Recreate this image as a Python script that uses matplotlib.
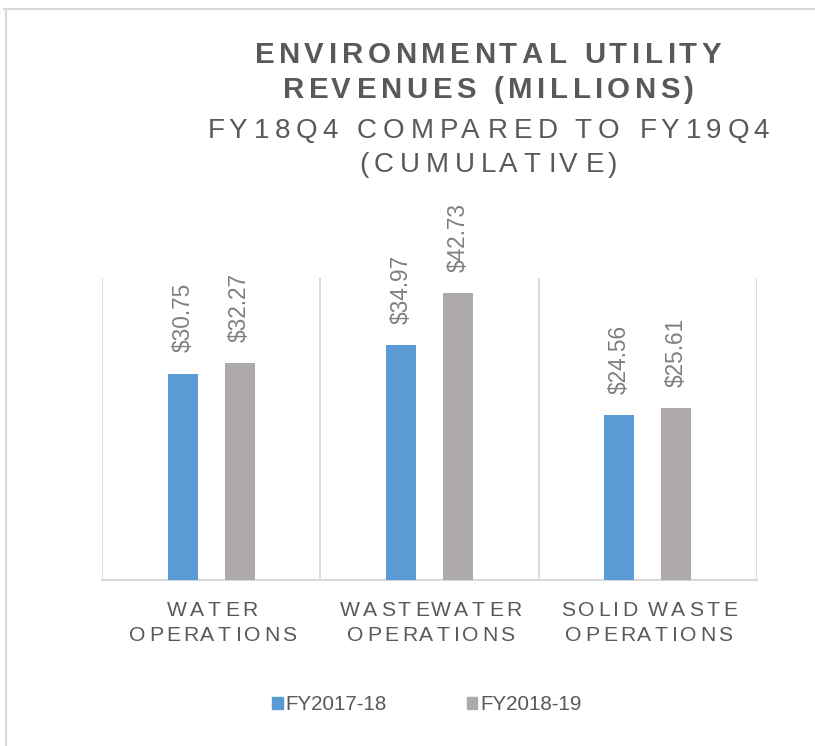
import matplotlib
matplotlib.use('Agg')
import matplotlib.pyplot as plt
from matplotlib import font_manager
from matplotlib.ft2font import FT2Font, LoadFlags
from matplotlib.transforms import IdentityTransform
from matplotlib.patches import Patch
from matplotlib.lines import Line2D

# data
categories = ['WATER\nOPERATIONS', 'WASTEWATER\nOPERATIONS', 'SOLID WASTE\nOPERATIONS']
fy2017_18 = [30.75, 34.97, 24.56]
fy2018_19 = [32.27, 42.73, 25.61]
series_names = ['FY2017-18', 'FY2018-19']

BLUE = '#5B9BD5'
GRAY = '#AEAAAA'
TEXT = '#595959'
LABEL = '#7F7F7F'
GRID = '#D9D9D9'

W, H = 815, 746
fig = plt.figure(figsize=(W / 100, H / 100), dpi=100)
ax = fig.add_axes([102 / W, 1 - 580 / H, 655 / W, 302 / H])


def tracked_text(x, y_top, s, size, track, weight='normal', color=TEXT):
    # draw text centred on x (pixels) with baseline at y_top (pixels from top), extra letter spacing
    prop = font_manager.FontProperties(family='Liberation Sans', weight=weight)
    font = FT2Font(font_manager.findfont(prop))
    font.set_size(size, fig.dpi)
    advs, bears = [], []
    for ch in s:
        g = font.load_char(ord(ch), flags=LoadFlags.NO_HINTING)
        advs.append(g.linearHoriAdvance / 65536)
        bears.append(g.horiBearingX / 64)
    total = sum(advs) + track * (len(s) - 1)
    pen = x - total / 2
    for ch, a, b in zip(s, advs, bears):
        if ch != ' ':
            fig.text(pen + b, H - y_top, ch, transform=IdentityTransform(),
                     fontsize=size, fontweight=weight, family='Liberation Sans',
                     color=color, ha='left', va='baseline')
        pen += a + track


x = list(range(len(categories)))
bw = 0.137
off = 0.13
ax.bar([i - off for i in x], fy2017_18, width=bw, color=BLUE, zorder=3)
ax.bar([i + off for i in x], fy2018_19, width=bw, color=GRAY, zorder=3)

for i in x:
    for xv, v in ((i - off, fy2017_18[i]), (i + off, fy2018_19[i])):
        ax.annotate(f'${v:.2f}', (xv, v), xytext=(0, 15.5), textcoords='offset points',
                    rotation=90, ha='center', va='bottom', fontsize=16.3,
                    family='Liberation Sans', color=LABEL)

ax.set_xlim(-0.5, 2.5)
ax.set_ylim(0, 45)
ax.vlines([-0.5, 0.5, 1.5, 2.5], 0, 45, color=GRID, lw=1.3, zorder=1)
for sp in ['left', 'right', 'top']:
    ax.spines[sp].set_visible(False)
ax.spines['bottom'].set_color(GRID)
ax.spines['bottom'].set_linewidth(1.5)
ax.set_xticks([])
ax.set_yticks([])

# category labels with letter spacing
for i, cat in enumerate(categories):
    cx = ax.transData.transform((i, 0))[0]
    for j, line in enumerate(cat.split('\n')):
        tracked_text(cx, 616 + 25 * j, line, 15.2, 3.2)

# title
tracked_text(487, 63, 'ENVIRONMENTAL UTILITY', 21.2, 4.6, weight='bold')
tracked_text(487, 98, 'REVENUES (MILLIONS)', 21.2, 4.6, weight='bold')
tracked_text(487, 138, 'FY18Q4 COMPARED TO FY19Q4', 20.0, 5.6)
tracked_text(487, 172, '(CUMULATIVE)', 20.0, 5.6)

# legend
handles = [Patch(color=BLUE), Patch(color=GRAY)]
fig.legend(handles, series_names, loc='center', bbox_to_anchor=(427 / W, 1 - 705 / H),
           ncol=2, frameon=False, handlelength=0.5, handleheight=0.5,
           handletextpad=0.15, columnspacing=3.9,
           prop=font_manager.FontProperties(family='Liberation Sans', size=14.8),
           labelcolor=TEXT)

# chart border (top and left visible)
fig.add_artist(Line2D([4, W], [H - 8.5, H - 8.5], transform=IdentityTransform(), color=GRID, lw=1.5))
fig.add_artist(Line2D([6, 6], [0, H - 8.5], transform=IdentityTransform(), color=GRID, lw=1.5))

fig.savefig('out.png', dpi=100)
